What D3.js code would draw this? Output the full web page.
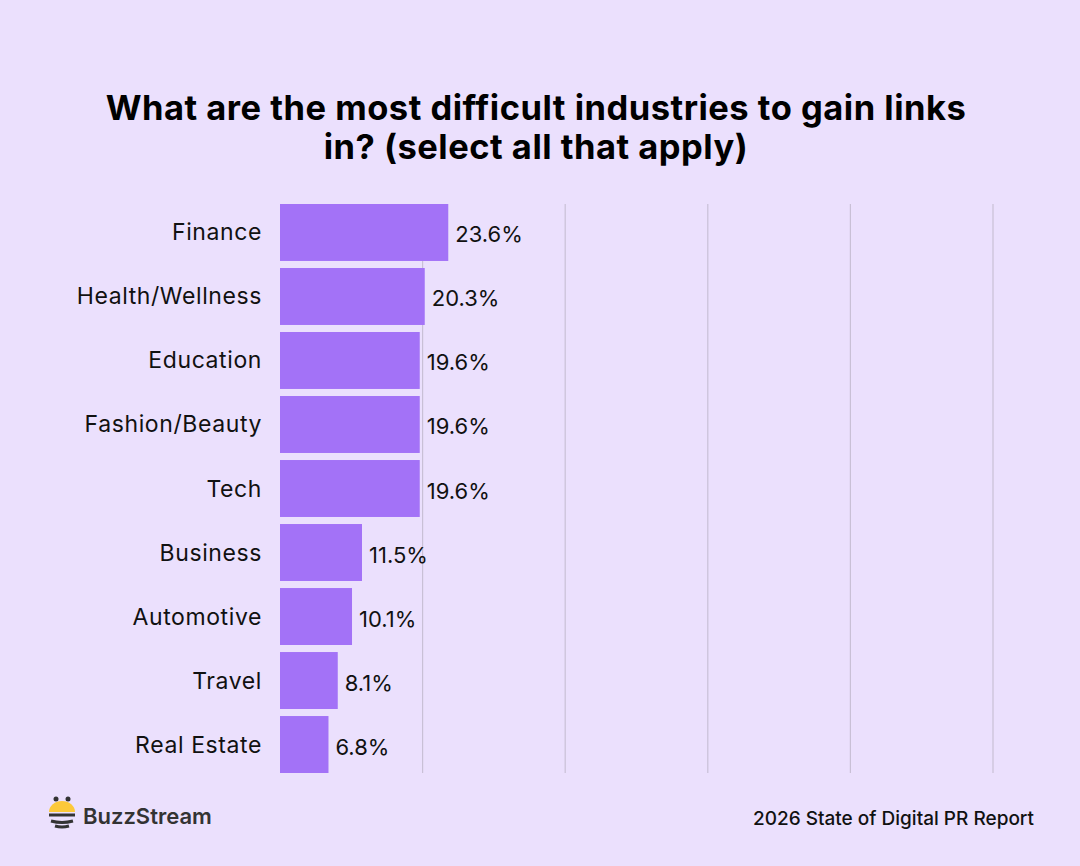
<!DOCTYPE html>
<html><head><meta charset="utf-8">
<script src="https://cdn.jsdelivr.net/npm/d3@7"></script>
<style>
body{margin:0;background:#ebe0fd;}
text{font-family:Inter,"Noto Sans",sans-serif;}
</style></head>
<body><div id="chart"></div>
<script>
var categories = ["Finance","Health/Wellness","Education","Fashion/Beauty","Tech","Business","Automotive","Travel","Real Estate"];
var values = [23.6,20.3,19.6,19.6,19.6,11.5,10.1,8.1,6.8];
var ticks = [20,40,60,80,100];

var width = 1080, height = 866;
var svg = d3.select("#chart").append("svg").attr("width", width).attr("height", height);
svg.append("rect").attr("width", width).attr("height", height).attr("fill", "#ebe0fd");

// title
svg.append("text").attr("x", 536).attr("y", 120).attr("text-anchor", "middle")
  .attr("font-size", 34.5).attr("font-weight", 700).attr("fill", "#000").attr("letter-spacing", 0.5)
  .text("What are the most difficult industries to gain links");
svg.append("text").attr("x", 536).attr("y", 159).attr("text-anchor", "middle")
  .attr("font-size", 34.5).attr("font-weight", 700).attr("fill", "#000").attr("letter-spacing", 0.5)
  .text("in? (select all that apply)");

var x = d3.scaleLinear().domain([0, 100]).range([280, 993]);
var y = d3.scaleBand().domain(categories).range([204, 773]).paddingInner(0.11).paddingOuter(0);

// gridlines
svg.selectAll(".grid").data(ticks).enter().append("line")
  .attr("x1", function(d){ return x(d); }).attr("x2", function(d){ return x(d); })
  .attr("y1", 204).attr("y2", 773)
  .attr("stroke", "#c9c0d6").attr("stroke-width", 1.2);

svg.selectAll(".bar").data(values).enter().append("rect")
  .attr("x", x(0))
  .attr("y", function(d,i){ return y(categories[i]); })
  .attr("width", function(d){ return x(d) - x(0); })
  .attr("height", y.bandwidth())
  .attr("fill", "#a372f7");

svg.selectAll(".val").data(values).enter().append("text")
  .attr("x", function(d){ return x(d) + 7; })
  .attr("y", function(d,i){ return y(categories[i]) + y.bandwidth()/2 + 10; })
  .attr("font-size", 22).attr("fill", "#111")
  .text(function(d){ return d.toFixed(1) + "%"; });

svg.selectAll(".cat").data(categories).enter().append("text")
  .attr("x", 262)
  .attr("y", function(d){ return y(d) + y.bandwidth()/2 + 8; })
  .attr("text-anchor", "end").attr("font-size", 23).attr("fill", "#111").attr("letter-spacing", 0.6)
  .text(function(d){ return d; });

// footer logo
var logo = svg.append("g").attr("transform", "translate(62,815)");
logo.append("circle").attr("cx", -6).attr("cy", -16).attr("r", 2.5).attr("fill", "#333");
logo.append("circle").attr("cx", 6).attr("cy", -16).attr("r", 2.5).attr("fill", "#333");
logo.append("path").attr("d", "M-13,-3 A13,11 0 0 1 13,-3 Z").attr("fill", "#fcc93a");
logo.append("path").attr("d", "M-13,0 L13,0").attr("stroke", "#333").attr("stroke-width", 3);
logo.append("path").attr("d", "M-11,6 Q0,9 11,6").attr("stroke", "#333").attr("stroke-width", 3).attr("fill", "none");
logo.append("path").attr("d", "M-7,11 Q0,13 7,11").attr("stroke", "#333").attr("stroke-width", 3).attr("fill", "none");
svg.append("text").attr("x", 83).attr("y", 824).attr("font-size", 22).attr("font-weight", 600)
  .attr("fill", "#333").text("BuzzStream");

svg.append("text").attr("x", 1034).attr("y", 825).attr("text-anchor", "end")
  .attr("font-size", 19).attr("font-weight", 500).attr("fill", "#111")
  .text("2026 State of Digital PR Report");
</script></body></html>
